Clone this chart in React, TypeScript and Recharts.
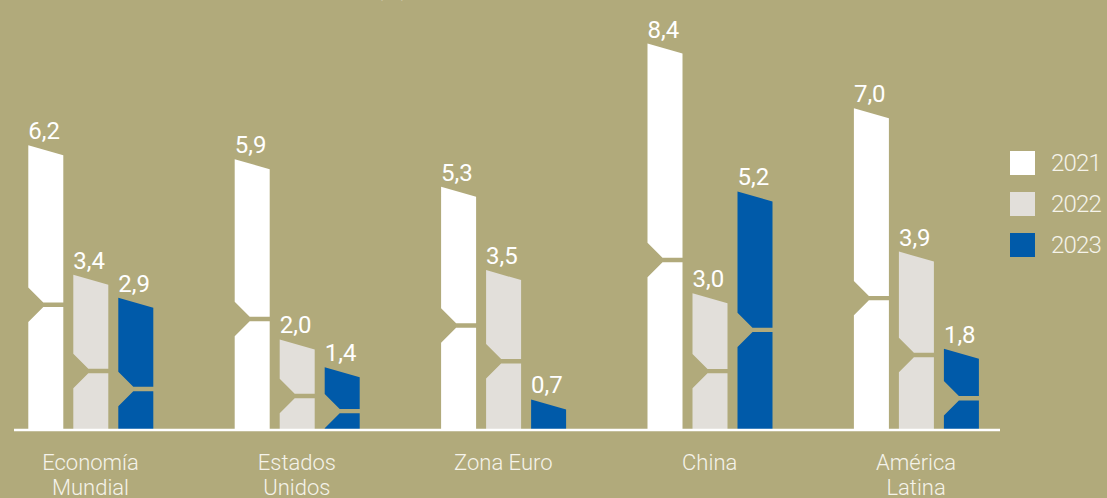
import React from "react";
import { BarChart, Bar, XAxis, YAxis, LabelList, Legend } from "recharts";

const categories = ["Economía Mundial", "Estados Unidos", "Zona Euro", "China", "América Latina"];
const tickLines = [["Economía", "Mundial"], ["Estados", "Unidos"], ["Zona Euro"], ["China"], ["América", "Latina"]];
const years = ["2021", "2022", "2023"];
const values2021 = [6.2, 5.9, 5.3, 8.4, 7.0];
const values2022 = [3.4, 2.0, 3.5, 3.0, 3.9];
const values2023 = [2.9, 1.4, 0.7, 5.2, 1.8];

// decorative notch position (fraction of bar height from the base), per bar
const notch2021 = [0.44, 0.41, 0.43, 0.44, 0.41];
const notch2022 = [0.38, 0.375, 0.43, 0.43, 0.42];
const notch2023 = [0.31, 0.3, 0, 0.42, 0.39];

const COLORS = ["#ffffff", "#e2dfda", "#005aa9"];
const BG = "#b1aa7b";
const TEXT = "#f5f3ea";
const FONT = "Roboto, 'Open Sans', sans-serif";

const data = categories.map((name, i) => ({
  name,
  y2021: values2021[i],
  y2022: values2022[i],
  y2023: values2023[i],
}));

function NotchedBar(props: any) {
  const { x, y, width: w, height: h, fill, ratios } = props;
  if (h == null || h <= 0) return null;
  let idx = categories.indexOf(props.payload?.name);
  if (idx < 0) idx = props.index ?? 0;
  const slant = 10;
  const d = 15;
  const g = 2.2;
  const bottom = y + h;
  const r = ratios[idx];
  if (!r || h < 40) {
    return (
      <path
        d={`M${x},${y} L${x + w},${y + slant} L${x + w},${bottom} L${x},${bottom} Z`}
        fill={fill}
      />
    );
  }
  const gc = bottom - h * r;
  const gt = gc - g;
  const gb = gc + g;
  const p1 = `M${x},${y} L${x + w},${y + slant} L${x + w},${gt} L${x + d},${gt} L${x},${gt - d} Z`;
  const p2 = `M${x + d},${gb} L${x + w},${gb} L${x + w},${bottom} L${x},${bottom} L${x},${gb + d} Z`;
  return <path d={p1 + " " + p2} fill={fill} />;
}

function ValueLabel(props: any) {
  const vb = props.viewBox || {};
  const x = props.x ?? vb.x;
  const y = props.y ?? vb.y;
  const v = Number(props.value);
  return (
    <text x={x} y={y - 6} fill="#ffffff" fontSize={24} fontWeight={400} fontFamily={FONT} textAnchor="start">
      {v.toFixed(1).replace(".", ",")}
    </text>
  );
}

function CategoryTick(props: any) {
  const { x, y, payload } = props;
  let idx = categories.indexOf(payload?.value);
  if (idx < 0) idx = payload?.index ?? 0;
  const lines = tickLines[idx] || [String(payload?.value)];
  return (
    <text x={x} y={y} textAnchor="middle" fill={TEXT} fontSize={22} fontWeight={300} fontFamily={FONT}>
      {lines.map((l, k) => (
        <tspan key={k} x={x} dy={k === 0 ? 32 : 25}>
          {l}
        </tspan>
      ))}
    </text>
  );
}

function LegendContent() {
  return (
    <div style={{ fontFamily: FONT }}>
      {years.map((yr, i) => (
        <div key={yr} style={{ display: "flex", alignItems: "center", height: 24, marginBottom: 17 }}>
          <div style={{ width: 25, height: 24, background: COLORS[i] }} />
          <span
            style={{
              marginLeft: 16,
              fontSize: 24,
              fontWeight: 300,
              letterSpacing: -0.8,
              color: TEXT,
              lineHeight: "24px",
            }}
          >
            {yr}
          </span>
        </div>
      ))}
    </div>
  );
}

export default function App() {
  return (
    <div
      style={{
        position: "absolute",
        left: 0,
        top: 0,
        width: 1107,
        height: 498,
        background: BG,
        overflow: "hidden",
      }}
    >
      <div
        style={{
          position: "absolute",
          left: 375,
          top: -27,
          fontSize: 24,
          color: "#ffffff",
          fontFamily: FONT,
          lineHeight: "28px",
        }}
      >
        (%)
      </div>
      <BarChart
        width={1107}
        height={498}
        data={data}
        margin={{ top: 14, right: 10, bottom: 8, left: 14 }}
        barGap={10}
        barCategoryGap={0}
      >
        <YAxis hide domain={[0.04, 9.04]} allowDataOverflow />
        <XAxis
          dataKey="name"
          axisLine={{ stroke: "#ffffff", strokeWidth: 2.5 }}
          tickLine={false}
          tick={<CategoryTick />}
          height={60}
          interval={0}
          padding={{ left: -26.7, right: -19.3 }}
        />
        <Legend
          layout="vertical"
          align="right"
          verticalAlign="top"
          width={97}
          wrapperStyle={{ left: 1010, top: 151 }}
          content={<LegendContent />}
        />
        <Bar
          dataKey="y2021"
          name="2021"
          fill={COLORS[0]}
          barSize={35}
          isAnimationActive={false}
          shape={(p: any) => <NotchedBar {...p} ratios={notch2021} />}
        >
          <LabelList dataKey="y2021" content={<ValueLabel />} />
        </Bar>
        <Bar
          dataKey="y2022"
          name="2022"
          fill={COLORS[1]}
          barSize={35}
          isAnimationActive={false}
          shape={(p: any) => <NotchedBar {...p} ratios={notch2022} />}
        >
          <LabelList dataKey="y2022" content={<ValueLabel />} />
        </Bar>
        <Bar
          dataKey="y2023"
          name="2023"
          fill={COLORS[2]}
          barSize={35}
          isAnimationActive={false}
          shape={(p: any) => <NotchedBar {...p} ratios={notch2023} />}
        >
          <LabelList dataKey="y2023" content={<ValueLabel />} />
        </Bar>
      </BarChart>
    </div>
  );
}
